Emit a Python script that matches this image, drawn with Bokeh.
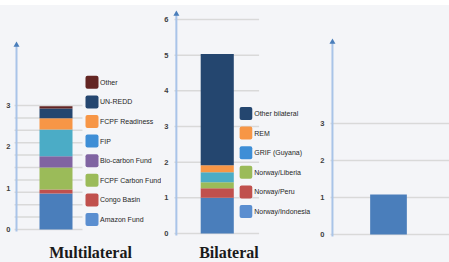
import numpy as np
from bokeh.plotting import figure
from bokeh.layouts import row, column
from bokeh.models import Range1d, FixedTicker, Spacer
from bokeh.core.properties import value
from bokeh.embed import file_html
from bokeh.resources import INLINE

# ---------------- data ----------------
multi_cats = ["Amazon Fund", "Congo Basin", "FCPF Carbon Fund", "Bio-carbon Fund",
              "FIP", "FCPF Readiness", "UN-REDD", "Other"]
multi_vals = [0.87, 0.10, 0.53, 0.27, 0.65, 0.27, 0.24, 0.05]
multi_ticks = [0, 1, 2, 3]
multi_grid = [0.0, 0.3, 0.6, 0.9, 1.2, 1.5, 1.8, 2.1, 2.4, 2.7, 3.0]

bi_cats = ["Norway/Indonesia", "Norway/Peru", "Norway/Liberia", "GRIF (Guyana)",
           "REM", "Other bilateral"]
bi_vals = [1.00, 0.27, 0.17, 0.28, 0.19, 3.12]
bi_ticks = [0, 1, 2, 3, 4, 5, 6]

third_vals = [1.08]
third_ticks = [0, 1, 2, 3]

panel_titles = ["Multilateral", "Bilateral"]

# ---------------- styles ----------------
BG = "#f4f5f8"
GRID = "#d9d9d9"
AXIS = "#a9c4e8"
ARROW = "#4a7ebb"
multi_bar_colors = ["#4a7ebb", "#c0504d", "#9bbb59", "#8064a2",
                    "#4bacc6", "#f79646", "#24466f", "#632523"]
multi_leg_colors = ["#5a8ed0", "#c0504d", "#9bbb59", "#8064a2",
                    "#3e8ed6", "#f79646", "#24466f", "#632523"]
bi_bar_colors = ["#4a7ebb", "#c0504d", "#9bbb59", "#4bacc6", "#f79646", "#24466f"]
bi_leg_colors = ["#5a8ed0", "#c0504d", "#9bbb59", "#3e8ed6", "#f79646", "#24466f"]
third_color = "#4a7ebb"

H = 257
TICK_FONT = "Liberation Sans"
LEG_FONT = "Liberation Sans"


def make_panel(width, border_left, zero_px, unit, ticks, grid_vals, ax_x, grid_x1,
               arrow_px, standoff):
    y0 = -(H - zero_px) / unit
    y1 = zero_px / unit
    fw = width - border_left
    p = figure(width=width, height=H, x_range=Range1d(0, fw), y_range=Range1d(y0, y1),
               x_axis_type=None, output_backend="svg", toolbar_location=None,
               min_border_left=border_left, min_border_right=0, min_border_top=0,
               min_border_bottom=0, background_fill_color=BG, border_fill_color=BG,
               outline_line_color=None)
    p.grid.visible = False
    ax = p.yaxis[0]
    ax.ticker = FixedTicker(ticks=ticks)
    ax.axis_line_color = None
    ax.major_tick_line_color = None
    ax.minor_tick_line_color = None
    ax.major_tick_out = 0
    ax.major_tick_in = 0
    ax.major_label_standoff = standoff
    ax.major_label_text_font = TICK_FONT
    ax.major_label_text_font_size = "7.5px"
    ax.major_label_text_color = "#404040"
    ax.major_label_text_font_style = "bold"
    gv = np.array(grid_vals, dtype=float)
    p.segment(x0=np.full(len(gv), ax_x - 2.0), y0=gv, x1=np.full(len(gv), grid_x1), y1=gv,
              line_color=GRID, line_width=1.5)
    top = (zero_px - arrow_px) / unit
    p.segment(x0=[ax_x], y0=[-2.0 / unit], x1=[ax_x], y1=[top - 3.0 / unit],
              line_color=AXIS, line_width=2)
    p.scatter(x=[ax_x], y=[top - 2.5 / unit], marker="triangle", size=6,
              fill_color=ARROW, line_color=None)
    return p, (lambda py: (zero_px - py) / unit)


def stacked(p, x, w, vals, colors):
    v = np.array(vals, dtype=float)
    tops = np.cumsum(v)
    bottoms = tops - v
    p.vbar(x=x, width=w, bottom=bottoms, top=tops, fill_color=colors, line_color=None)


def legend(p, py2y, cats, colors, sx0, sx1, tx, first_py, step_py, size_px):
    n = len(cats)
    centers_py = np.array([first_py - i * step_py for i in range(n)])
    yc = py2y(centers_py)
    half = py2y(0) - py2y(size_px / 2.0)
    p.quad(left=sx0, right=sx1, bottom=yc - half, top=yc + half, fill_color=colors,
           line_color=None, border_radius=2)
    p.text(x=np.full(n, tx), y=yc, text=cats, text_font=value(LEG_FONT),
           text_font_size="7px", text_baseline="middle", text_align="left",
           text_color="#262626")


def title(p, py2y, cx, text):
    p.text(x=[cx], y=[py2y(246.5)], text=[text], text_font=value("Liberation Serif"),
           text_font_style="bold", text_font_size="16px", text_align="center",
           text_baseline="middle", text_color="#1a1a1a")


# panel 1 : Multilateral (x 0..161, frame from 11)
p1, f1 = make_panel(161, 11, 224.0, 41.33, multi_ticks, multi_grid, 5.0, 71.0, 37.0, 1)
stacked(p1, 44.5, 33.0, multi_vals, multi_bar_colors)
legend(p1, f1, multi_cats, multi_leg_colors, 74.0, 87.0, 88.5, 214.0, 19.6, 13.0)
title(p1, f1, 79.0, panel_titles[0])

# panel 2 : Bilateral (x 161..317, frame from 167)
p2, f2 = make_panel(156, 6, 228.0, 35.67, bi_ticks, bi_ticks, 5.0, 90.0, 6.0, 3)
stacked(p2, 47.0, 34.0, bi_vals, bi_bar_colors)
legend(p2, f2, bi_cats, bi_leg_colors, 70.0, 83.0, 85.0, 206.0, 19.6, 13.0)
title(p2, f2, 59.0, panel_titles[1])

# panel 3 (x 317..449, frame from 326)
p3, f3 = make_panel(132, 9, 229.0, 37.0, third_ticks, third_ticks, 5.0, 123.0, 34.0, 3)
p3.vbar(x=[61.5], width=37.0, bottom=[0], top=third_vals, fill_color=third_color,
        line_color=None)

panels = row(p1, p2, p3, spacing=0, styles={"background-color": BG})
layout = column(Spacer(height=5, width=449), panels, spacing=0)
open("out.html", "w").write(file_html(layout, INLINE))
